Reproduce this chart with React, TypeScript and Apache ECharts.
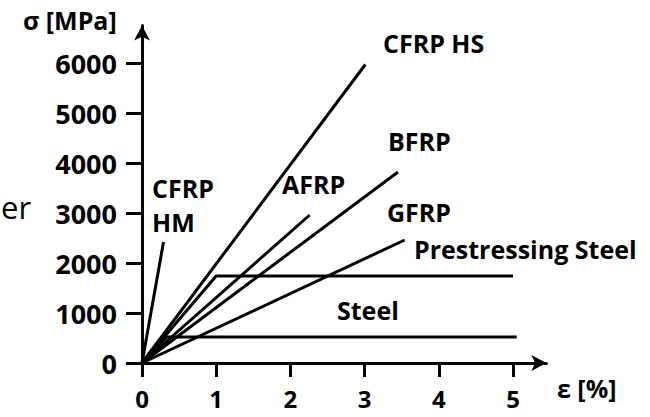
import React, { useEffect, useRef } from "react";
import * as echarts from "echarts";

// strain in %, stress in MPa
const cfrpHM: [number, number][] = [[0, 0], [0.29, 2420]];
const cfrpHS: [number, number][] = [[0, 0], [3.01, 5970]];
const afrp: [number, number][] = [[0, 0], [2.26, 2960]];
const bfrp: [number, number][] = [[0, 0], [3.45, 3820]];
const gfrp: [number, number][] = [[0, 0], [3.54, 2460]];
const prestressingSteel: [number, number][] = [[0, 0], [1.0, 1740], [5.0, 1740]];
const steel: [number, number][] = [[0, 0], [0.33, 520], [5.05, 520]];

const xTicks = [0, 1, 2, 3, 4, 5];
const yTicks = [0, 1000, 2000, 3000, 4000, 5000, 6000];

const seriesList = [
  { name: "CFRP HM", data: cfrpHM },
  { name: "CFRP HS", data: cfrpHS },
  { name: "AFRP", data: afrp },
  { name: "BFRP", data: bfrp },
  { name: "GFRP", data: gfrp },
  { name: "Prestressing Steel", data: prestressingSteel },
  { name: "Steel", data: steel },
];

const FONT = "'Open Sans', 'Noto Sans', sans-serif";

export default function App() {
  const ref = useRef<HTMLDivElement>(null);
  useEffect(() => {
    if (!ref.current) return;
    const chart = echarts.init(ref.current, null, { renderer: "svg" });
    const X_MAX = 5.45;
    const Y_MAX = 6750;
    const pxX = 74.2;
    const pxY = 0.05;
    const left = 142;
    const bottom = 54;
    const lbl = (text: string, x: number, y: number, extra: any = {}) => ({
      type: "text",
      left: x,
      top: y,
      style: {
        text,
        fontFamily: FONT,
        fontWeight: "bold",
        fontSize: 25,
        fill: "#000",
        ...extra,
      },
    });
    chart.setOption({
      animation: false,
      backgroundColor: "#fff",
      grid: {
        left,
        bottom,
        width: X_MAX * pxX,
        height: Y_MAX * pxY,
        containLabel: false,
      },
      xAxis: {
        type: "value",
        min: 0,
        max: X_MAX,
        splitLine: { show: false },
        axisLine: {
          show: true,
          onZero: false,
          symbol: ["none", "arrow"],
          symbolSize: [12, 15],
          lineStyle: { color: "#000", width: 3 },
        },
        axisTick: {
          show: true,
          length: 14,
          customValues: xTicks,
          lineStyle: { color: "#000", width: 3 },
        },
        axisLabel: {
          customValues: xTicks,
          margin: 24,
          lineHeight: 22,
          color: "#000",
          fontFamily: FONT,
          fontWeight: "bold",
          fontSize: 24,
          formatter: (v: number) => String(v),
        },
      },
      yAxis: {
        type: "value",
        min: 0,
        max: Y_MAX,
        splitLine: { show: false },
        axisLine: {
          show: true,
          onZero: false,
          symbol: ["none", "arrow"],
          symbolSize: [12, 15],
          lineStyle: { color: "#000", width: 3 },
        },
        axisTick: {
          show: true,
          length: 16,
          customValues: yTicks,
          lineStyle: { color: "#000", width: 3 },
        },
        axisLabel: {
          customValues: yTicks,
          margin: 25,
          color: "#000",
          fontFamily: FONT,
          fontWeight: "bold",
          fontSize: 27,
          formatter: (v: number) => String(v),
        },
      },
      series: seriesList.map((s) => ({
        type: "line",
        name: s.name,
        data: s.data,
        showSymbol: false,
        symbol: "none",
        lineStyle: { color: "#000", width: 3 },
      })),
      graphic: [
        lbl("σ [MPa]", 23, 7),
        lbl("ε [%]", 557, 375),
        lbl("CFRP HS", 383, 30),
        lbl("CFRP\nHM", 152, 171, { lineHeight: 34 }),
        lbl("AFRP", 282, 171),
        lbl("BFRP", 388, 128),
        lbl("GFRP", 387, 199),
        lbl("Prestressing Steel", 414, 236),
        lbl("Steel", 337, 297),
        {
          type: "text",
          left: 1,
          top: 191,
          style: {
            text: "er",
            fontFamily: FONT,
            fontSize: 31,
            fill: "#000",
          },
        },
      ],
    });
    return () => chart.dispose();
  }, []);
  return (
    <div
      ref={ref}
      style={{ position: "fixed", left: 0, top: 0, width: 650, height: 417 }}
    />
  );
}
